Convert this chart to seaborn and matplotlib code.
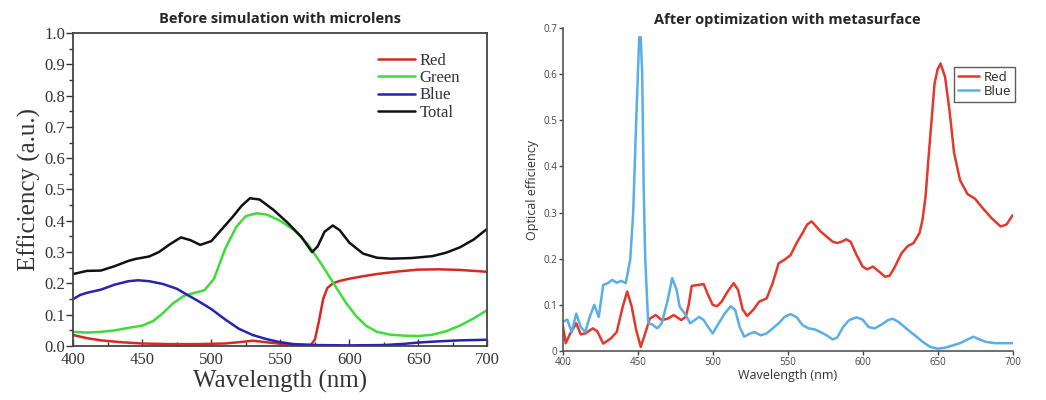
import numpy as np
import pandas as pd
import matplotlib
matplotlib.use("Agg")
import matplotlib.pyplot as plt
import seaborn as sns
from matplotlib.ticker import MultipleLocator

# left panel: before simulation with microlens
wl_total = [400, 410, 420, 430, 440, 445, 455, 462, 470, 478, 485, 492, 500, 508, 515, 522, 528, 535,
            545, 555, 565, 573, 577, 582, 588, 593, 600, 610, 620, 630, 645, 660, 670, 680, 690, 700]
total = [0.230, 0.240, 0.241, 0.255, 0.272, 0.278, 0.286, 0.300, 0.325, 0.347, 0.338, 0.323, 0.335, 0.375,
         0.410, 0.448, 0.472, 0.468, 0.435, 0.395, 0.350, 0.300, 0.318, 0.365, 0.385, 0.370, 0.330, 0.295,
         0.282, 0.279, 0.281, 0.287, 0.298, 0.315, 0.340, 0.375]

wl_green = [400, 410, 420, 430, 440, 450, 458, 465, 472, 480, 488, 495, 502, 510, 518, 525, 533, 540,
            550, 560, 570, 580, 590, 598, 605, 612, 620, 630, 640, 650, 660, 670, 680, 690, 700]
green = [0.045, 0.043, 0.045, 0.050, 0.058, 0.065, 0.080, 0.105, 0.135, 0.160, 0.170, 0.178, 0.215,
         0.310, 0.380, 0.415, 0.424, 0.420, 0.400, 0.370, 0.325, 0.260, 0.190, 0.135, 0.095, 0.065,
         0.045, 0.036, 0.033, 0.032, 0.036, 0.047, 0.065, 0.088, 0.115]

wl_blue = [400, 405, 410, 420, 430, 440, 447, 455, 465, 475, 482, 490, 500, 510, 520, 530, 540, 550,
           560, 575, 600, 625, 640, 650, 665, 680, 700]
blue = [0.150, 0.163, 0.170, 0.180, 0.196, 0.207, 0.210, 0.207, 0.198, 0.183, 0.165, 0.145, 0.118,
        0.085, 0.055, 0.035, 0.022, 0.012, 0.006, 0.003, 0.002, 0.003, 0.007, 0.011, 0.015, 0.018, 0.020]

wl_red = [400, 410, 420, 435, 450, 470, 490, 510, 522, 530, 538, 548, 560, 572, 575, 578, 581, 584,
          588, 593, 600, 610, 620, 635, 650, 665, 680, 700]
red = [0.035, 0.025, 0.018, 0.012, 0.008, 0.006, 0.006, 0.008, 0.013, 0.017, 0.013, 0.008, 0.003,
       0.003, 0.020, 0.080, 0.150, 0.185, 0.200, 0.208, 0.215, 0.223, 0.230, 0.238, 0.244, 0.245,
       0.243, 0.237]

# right panel: after optimization with metasurface
wl_r2 = [400, 402, 405, 409, 412, 415, 420, 423, 427, 432, 436, 440, 443, 446, 449, 452, 455, 458,
         462, 466, 470, 474, 479, 482, 484, 486, 490, 494, 497, 500, 503, 506, 510, 514, 517, 520,
         523, 527, 531, 536, 540, 544, 548, 552, 556, 560, 563, 566, 569, 572, 576, 580, 583, 586,
         589, 592, 596, 600, 603, 607, 611, 615, 618, 621, 626, 630, 634, 638, 640, 642, 644, 646,
         648, 650, 652, 655, 658, 661, 665, 670, 675, 680, 686, 692, 696, 700]
red2 = [0.056, 0.017, 0.038, 0.060, 0.036, 0.038, 0.049, 0.043, 0.016, 0.027, 0.041, 0.096, 0.129,
        0.096, 0.045, 0.009, 0.038, 0.070, 0.078, 0.067, 0.070, 0.078, 0.067, 0.074, 0.100, 0.141,
        0.143, 0.145, 0.121, 0.100, 0.097, 0.107, 0.129, 0.147, 0.132, 0.090, 0.076, 0.089, 0.107,
        0.114, 0.147, 0.190, 0.198, 0.208, 0.234, 0.256, 0.274, 0.281, 0.270, 0.259, 0.248, 0.237,
        0.234, 0.237, 0.242, 0.237, 0.208, 0.183, 0.177, 0.183, 0.172, 0.161, 0.163, 0.179, 0.212,
        0.227, 0.234, 0.256, 0.285, 0.335, 0.420, 0.500, 0.580, 0.610, 0.623, 0.594, 0.520, 0.430,
        0.370, 0.340, 0.330, 0.310, 0.288, 0.270, 0.274, 0.294]

wl_b2 = [400, 403, 406, 409, 412, 415, 418, 421, 424, 427, 430, 433, 436, 439, 442, 445, 447, 449,
         451, 452, 453, 454, 455, 457, 460, 463, 466, 470, 473, 476, 478, 482, 485, 488, 491, 494,
         497, 500, 504, 508, 512, 515, 518, 521, 525, 528, 532, 536, 540, 544, 548, 552, 556, 560,
         564, 568, 572, 576, 580, 583, 587, 591, 596, 600, 604, 608, 612, 617, 620, 624, 628, 632,
         636, 640, 645, 650, 655, 660, 665, 670, 674, 678, 682, 688, 694, 700]
blue2 = [0.063, 0.068, 0.041, 0.081, 0.052, 0.041, 0.074, 0.100, 0.074, 0.143, 0.147, 0.154, 0.148,
         0.152, 0.147, 0.198, 0.300, 0.500, 0.680, 0.680, 0.600, 0.350, 0.200, 0.060, 0.057, 0.049,
         0.060, 0.110, 0.158, 0.132, 0.096, 0.078, 0.060, 0.067, 0.074, 0.067, 0.052, 0.038, 0.060,
         0.081, 0.097, 0.089, 0.052, 0.031, 0.038, 0.041, 0.034, 0.038, 0.049, 0.060, 0.074, 0.080,
         0.073, 0.056, 0.049, 0.047, 0.041, 0.034, 0.025, 0.029, 0.052, 0.067, 0.073, 0.068, 0.052,
         0.049, 0.056, 0.067, 0.070, 0.063, 0.052, 0.041, 0.031, 0.020, 0.009, 0.005, 0.007, 0.012,
         0.017, 0.025, 0.031, 0.025, 0.020, 0.017, 0.017, 0.017]

sns.set_style("white")
fig = plt.figure(figsize=(10.46, 4.0), dpi=100)
ax1 = fig.add_axes([0.070, 0.135, 0.396, 0.7825])
ax2 = fig.add_axes([0.538, 0.1225, 0.430, 0.8075])

serif = "Liberation Serif"
sans = "Open Sans"

sns.lineplot(x=wl_red, y=red, ax=ax1, color="#d42a24", lw=1.8, label="Red")
sns.lineplot(x=wl_green, y=green, ax=ax1, color="#3ddc3a", lw=1.8, label="Green")
sns.lineplot(x=wl_blue, y=blue, ax=ax1, color="#2424b0", lw=1.8, label="Blue")
sns.lineplot(x=wl_total, y=total, ax=ax1, color="#111111", lw=1.8, label="Total")

ax1.set_xlim(400, 700)
ax1.set_ylim(0, 1.0)
ax1.xaxis.set_major_locator(MultipleLocator(50))
ax1.xaxis.set_minor_locator(MultipleLocator(25))
ax1.yaxis.set_major_locator(MultipleLocator(0.1))
ax1.yaxis.set_minor_locator(MultipleLocator(0.05))
ax1.yaxis.set_major_formatter(matplotlib.ticker.FormatStrFormatter("%.1f"))
ax1.tick_params(axis="y", which="major", direction="out", length=5, width=1, left=True, color="#333333")
ax1.tick_params(axis="y", which="minor", direction="out", length=3, width=1, left=True, color="#333333")
ax1.tick_params(axis="x", which="major", direction="in", length=5, width=1, bottom=True, color="#333333")
ax1.tick_params(axis="x", which="minor", direction="in", length=3, width=1, bottom=True, color="#333333")
ax1.tick_params(labelsize=12, colors="#333333")
ax1.tick_params(axis="y", pad=1)
ax1.tick_params(axis="x", pad=4)
for lab in ax1.get_xticklabels() + ax1.get_yticklabels():
    lab.set_family(serif)
for sp in ax1.spines.values():
    sp.set_color("#444444")
    sp.set_linewidth(1.3)
ax1.set_xlabel("Wavelength (nm)", family=serif, fontsize=18, color="#333333", labelpad=2)
ax1.set_ylabel("Efficiency (a.u.)", family=serif, fontsize=18, color="#333333", labelpad=2)
ax1.set_title("Before simulation with microlens", family=sans, fontweight="bold", fontsize=10.5, pad=7)
leg1 = ax1.legend(loc="upper right", bbox_to_anchor=(0.97, 0.985), frameon=False,
                  prop={"family": serif, "size": 12}, handlelength=2.2, handletextpad=0.3,
                  labelspacing=0.08, labelcolor="#333333")

sns.lineplot(x=wl_r2, y=red2, ax=ax2, color="#e5382c", lw=1.8, label="Red")
sns.lineplot(x=wl_b2, y=blue2, ax=ax2, color="#5aaee8", lw=1.8, label="Blue")
ax2.set_xlim(400, 700)
ax2.set_ylim(0, 0.7)
ax2.xaxis.set_major_locator(MultipleLocator(50))
ax2.yaxis.set_major_locator(MultipleLocator(0.1))
ax2.yaxis.set_major_formatter(matplotlib.ticker.FuncFormatter(lambda v, p: "0" if abs(v) < 1e-9 else f"{v:.1f}"))
sns.despine(ax=ax2)
for sp in ax2.spines.values():
    sp.set_color("#555555")
    sp.set_linewidth(1.2)
ax2.tick_params(direction="out", length=3, width=1, left=True, bottom=True, labelsize=7, pad=1,
                colors="#444444")
for lab in ax2.get_xticklabels() + ax2.get_yticklabels():
    lab.set_family(sans)
ax2.set_xlabel("Wavelength (nm)", family=sans, fontsize=9, color="#333333", labelpad=1)
ax2.set_ylabel("Optical efficiency", family=sans, fontsize=9, color="#333333", labelpad=3)
ax2.set_title("After optimization with metasurface", family=sans, fontweight="bold", fontsize=10.5, pad=3)
leg2 = ax2.legend(loc="upper right", bbox_to_anchor=(1.005, 0.88), frameon=True, fancybox=False,
                  prop={"family": sans, "size": 9.5}, handlelength=1.6, handletextpad=0.3,
                  labelspacing=0.1, borderpad=0.3, borderaxespad=0)
leg2.get_frame().set_edgecolor("#333333")
leg2.get_frame().set_linewidth(1.0)

fig.savefig("out.png", dpi=100)
